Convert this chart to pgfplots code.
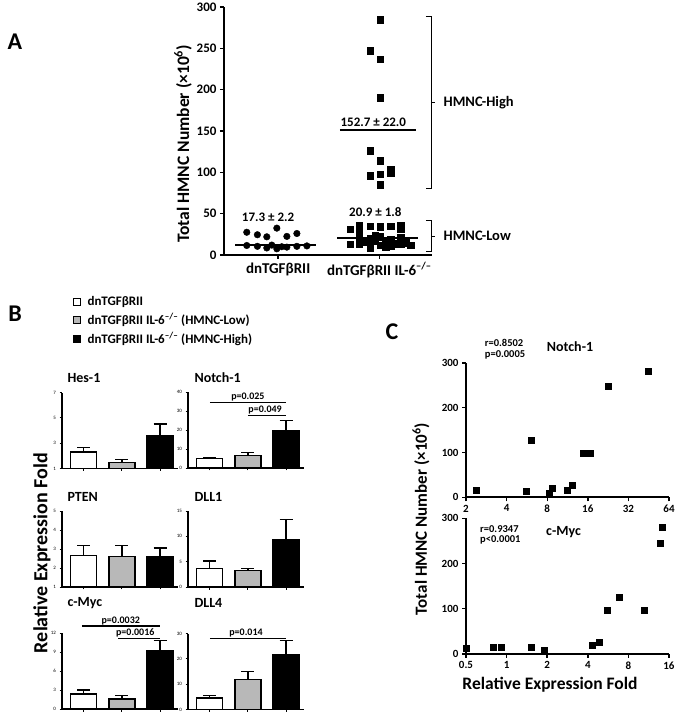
\documentclass[border=0pt]{standalone}
\usepackage{fontspec}
\setmainfont{Carlito}
\usepackage{pgfplots}
\pgfplotsset{compat=1.18}
\newcommand{\fs}[1]{\bfseries\fontsize{#1}{#1}\selectfont}
\pgfplotsset{
 myax/.style={scale only axis, axis lines*=left, axis line style={-, line width=1.6pt},
   tick style={line width=1.4pt, black}, tick align=outside, major tick length=4pt,
   /pgf/number format/assume math mode=true},
 bax/.style={scale only axis, axis lines*=left, axis line style={-, line width=1.1pt},
   tick style={line width=0.9pt, black}, tick align=outside, major tick length=2.5pt,
   /pgf/number format/assume math mode=true, width=116pt, height=76pt,
   xmin=0.43, xmax=3.47, xtick={1,2,3}, xticklabels={}, ybar, bar width=26pt, bar shift=0pt,
   tick label style={font=\fontsize{5}{5}\selectfont}},
 wb/.style={fill=white, draw=black, line width=1.2pt},
 gb/.style={fill=black!28, draw=black, line width=1.2pt},
 kb/.style={fill=black, draw=black, line width=1.2pt},
 eb/.style={error bars/.cd, y dir=plus, y explicit,
     error mark options={rotate=90, mark size=6.5pt, line width=1.2pt, black},
     error bar style={line width=1.2pt, black}},
 cax/.style={scale only axis, axis lines*=left, axis line style={-, line width=1.6pt},
   tick style={line width=1.4pt, black}, tick align=outside, major tick length=4pt,
   /pgf/number format/assume math mode=true, width=203pt,
   ymin=0, ymax=300, ytick={0,100,200,300}, tick label style={font=\fs{11}}, clip=false},
}
\begin{document}
\begin{tikzpicture}[x=1pt,y=1pt]
\path[use as bounding box] (0,0) rectangle (678,716);
% ---------------- Panel A
\node[font=\fs{24}] at (15,674) {A};
\begin{axis}[myax, at={(224pt,461pt)}, anchor=south west, width=208pt, height=248pt,
  xmin=0.465, xmax=2.52, ymin=0, ymax=300, ytick={0,50,...,300}, xtick={1,2},
  xticklabels={dnTGFβRII, dnTGFβRII IL-6\textsuperscript{–/–}},
  yticklabel style={font=\fs{13}}, xticklabel style={font=\fs{15}},
  ylabel={Total HMNC Number (×10\textsuperscript{6})},
  ylabel style={font=\fs{17.5}, at={(axis description cs:-0.197,0.448)}, anchor=center},
  clip=false]
\addplot[only marks, mark=*, mark size=3.3pt, black] table {
0.69 27.5
0.795 24.5
0.888 22
0.987 32.5
1.086 22.5
1.185 26
0.69 11.5
0.795 10.5
0.888 8.5
0.987 7.5
1.036 10
1.086 9.5
1.185 10.5
1.284 11
0.937 12
};
\addplot[only marks, mark=square*, mark size=3.3pt, black] table {
2.01 284.6
1.91 247
2.01 237
2.01 190
1.91 126.4
2.01 114
1.91 96
2.01 97.7
2.11 99.7
2.11 103
2.01 84.8
};
\addplot[only marks, mark=square*, mark size=3.3pt, black] table {
1.71 31
1.80 36
1.91 35
2.01 34
2.11 35
2.21 36
2.21 31
1.80 30
1.71 13
1.80 22
1.80 13
1.91 20
1.91 12
2.01 22
2.01 12
2.11 19
2.11 11
2.21 21
2.21 13
2.31 12
1.86 16
1.96 17
2.06 16
2.16 14
2.06 10
1.91 9
2.26 15
1.96 24
};
\addplot[black, line width=1.5pt] coordinates {(0.575,12.1) (1.375,12.1)};
\addplot[black, line width=1.5pt] coordinates {(1.583,20.6) (2.383,20.6)};
\addplot[black, line width=1.5pt] coordinates {(1.61,151) (2.36,151)};
\node[font=\fs{13}] at (axis cs:0.90,46) {17.3 ± 2.2};
\node[font=\fs{13}] at (axis cs:1.96,52) {20.9 ± 1.8};
\node[font=\fs{13}] at (axis cs:1.94,161) {152.7 ± 22.0};
\draw[line width=0.9pt] (axis cs:2.46,288) -- (axis cs:2.512,288) -- (axis cs:2.512,81) -- (axis cs:2.46,81);
\draw[line width=0.9pt] (axis cs:2.512,184) -- (axis cs:2.55,184);
\node[font=\fs{14.5}, anchor=west] at (axis cs:2.60,184) {HMNC-High};
\draw[line width=0.9pt] (axis cs:2.46,42.3) -- (axis cs:2.512,42.3) -- (axis cs:2.512,4.8) -- (axis cs:2.46,4.8);
\draw[line width=0.9pt] (axis cs:2.512,23) -- (axis cs:2.55,23);
\node[font=\fs{14.5}, anchor=west] at (axis cs:2.60,23) {HMNC-Low};
\end{axis}
% ---------------- Panel B
\node[font=\fs{24}] at (15,402) {B};
\draw[line width=0.8pt, fill=white] (73.5,410.5) rectangle (80.5,417.5);
\draw[line width=0.8pt, fill=black!28] (73.5,392.5) rectangle (80.5,399.5);
\draw[line width=0.8pt, fill=black] (73.5,373.5) rectangle (80.5,380.5);
\node[font=\fs{13}, anchor=west] at (84,414) {dnTGFβRII};
\node[font=\fs{13}, anchor=west] at (84,396) {dnTGFβRII IL-6\textsuperscript{–/–} (HMNC-Low)};
\node[font=\fs{13}, anchor=west] at (84,377) {dnTGFβRII IL-6\textsuperscript{–/–} (HMNC-High)};
\node[font=\fs{20}, rotate=90] at (42,163) {Relative Expression Fold};
\node[font=\fs{14}, anchor=west] at (64,338) {Hes-1};
\node[font=\fs{14}, anchor=west] at (191,338) {Notch-1};
\node[font=\fs{14}, anchor=west] at (64,219) {PTEN};
\node[font=\fs{14}, anchor=west] at (191,219) {DLL1};
\node[font=\fs{14}, anchor=west] at (64,113) {c-Myc};
\node[font=\fs{14}, anchor=west] at (191,113) {DLL4};
% Hes-1
\begin{axis}[bax, at={(62pt,247.5pt)}, anchor=south west, ymin=1, ymax=7, ytick={1,3,5,7}]
\addplot[wb, eb] coordinates {(1,2.3) +- (0,0.38)};
\addplot[gb, eb] coordinates {(2,1.46) +- (0,0.27)};
\addplot[kb, eb] coordinates {(3,3.62) +- (0,0.9)};
\end{axis}
% Notch-1
\begin{axis}[bax, at={(188pt,248pt)}, anchor=south west, ymin=0, ymax=40, ytick={0,10,...,40}, clip=false]
\addplot[wb, eb] coordinates {(1,5.1) +- (0,0.5)};
\addplot[gb, eb] coordinates {(2,6.7) +- (0,1.4)};
\addplot[kb, eb] coordinates {(3,19.7) +- (0,5.3)};
\draw[line width=1.1pt] (axis cs:1,34.5) -- (axis cs:3,34.5);
\node[font=\fs{10}, above, inner sep=1pt] at (axis cs:2,34.5) {p=0.025};
\draw[line width=1.1pt] (axis cs:2,27.5) -- (axis cs:3,27.5);
\node[font=\fs{10}, above, inner sep=1pt] at (axis cs:2.45,27.5) {p=0.049};
\end{axis}
% PTEN
\begin{axis}[bax, at={(62pt,129pt)}, anchor=south west, ymin=1, ymax=5, ytick={1,2,3,4,5}]
\addplot[wb, eb] coordinates {(1,2.65) +- (0,0.53)};
\addplot[gb, eb] coordinates {(2,2.62) +- (0,0.55)};
\addplot[kb, eb] coordinates {(3,2.62) +- (0,0.43)};
\end{axis}
% DLL1
\begin{axis}[bax, at={(188pt,129pt)}, anchor=south west, ymin=0, ymax=15, ytick={0,5,10,15}]
\addplot[wb, eb] coordinates {(1,3.7) +- (0,1.43)};
\addplot[gb, eb] coordinates {(2,3.2) +- (0,0.5)};
\addplot[kb, eb] coordinates {(3,9.3) +- (0,4.1)};
\end{axis}
% c-Myc
\begin{axis}[bax, at={(62pt,7pt)}, anchor=south west, ymin=0, ymax=12, ytick={0,3,...,12}, clip=false]
\addplot[wb, eb] coordinates {(1,2.37) +- (0,0.63)};
\addplot[gb, eb] coordinates {(2,1.58) +- (0,0.58)};
\addplot[kb, eb] coordinates {(3,9.16) +- (0,1.64)};
\draw[line width=1.1pt] (axis cs:0.95,13.1) -- (axis cs:3,13.1);
\node[font=\fs{10}, above, inner sep=1pt] at (axis cs:1.97,13.1) {p=0.0032};
\draw[line width=1.1pt] (axis cs:1.9,11.16) -- (axis cs:3,11.16);
\node[font=\fs{10}, above, inner sep=1pt] at (axis cs:2.35,11.16) {p=0.0016};
\end{axis}
% DLL4
\begin{axis}[bax, at={(188pt,6.5pt)}, anchor=south west, ymin=0, ymax=30, ytick={0,10,20,30}, clip=false]
\addplot[wb, eb] coordinates {(1,4.57) +- (0,1.03)};
\addplot[gb, eb] coordinates {(2,11.7) +- (0,3.25)};
\addplot[kb, eb] coordinates {(3,21.5) +- (0,5.6)};
\draw[line width=1.1pt] (axis cs:1,28) -- (axis cs:3,28);
\node[font=\fs{10}, above, inner sep=1pt] at (axis cs:1.95,28) {p=0.014};
\end{axis}
% ---------------- Panel C
\node[font=\fs{24}] at (392,384) {C};
\node[font=\fs{17}, rotate=90] at (421,197) {Total HMNC Number (×10\textsuperscript{6})};
\node[font=\fs{17.5}] at (550,31) {Relative Expression Fold};
\begin{axis}[cax, xmode=log, log basis x=2, at={(466pt,218.7pt)}, anchor=south west, height=134.5pt,
  xmin=2, xmax=64, xtick={2,4,8,16,32,64}, xticklabels={2,4,8,16,32,64}]
\addplot[only marks, mark=square*, mark size=3pt, black] table {
2.4 14.8
5.57 13.3
6.13 127
8.3 8.9
8.68 20
11.16 14.8
12.2 26.7
14.8 97.5
15.8 97.5
16.8 97.5
22.6 248
45 281
};
\node[font=\fs{10.5}, anchor=west, align=left] at (axis cs:2.6,330) {r=0.8502\\p=0.0005};
\node[font=\fs{14}, anchor=west] at (axis cs:7.5,337) {Notch-1};
\end{axis}
\begin{axis}[cax, xmode=log, log basis x=2, at={(466pt,62pt)}, anchor=south west, height=135.7pt,
  xmin=0.5, xmax=16, xtick={0.5,1,2,4,8,16}, xticklabels={0.5,1,2,4,8,16}]
\addplot[only marks, mark=square*, mark size=3pt, black] table {
0.5 12.5
0.80 14.7
0.906 14.7
1.51 14.7
1.91 8.8
4.32 19.9
4.85 25.7
5.56 97
6.82 126.5
10.4 97
13.7 246
14.2 280
};
\node[font=\fs{10.5}, anchor=west, align=left] at (axis cs:0.6,263) {r=0.9347\\p<0.0001};
\node[font=\fs{14}, anchor=west] at (axis cs:1.85,270) {c-Myc};
\end{axis}
\end{tikzpicture}
\end{document}
